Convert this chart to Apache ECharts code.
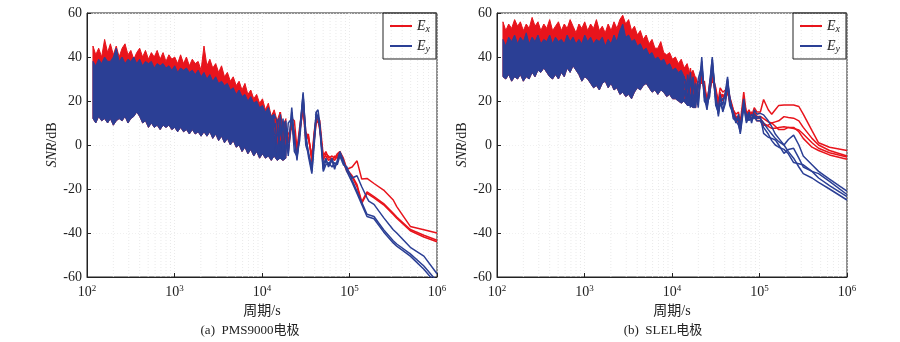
<!DOCTYPE html>
<html><head><meta charset="utf-8">
<script src="https://cdn.jsdelivr.net/npm/echarts@6/dist/echarts.min.js"></script>
<style>html,body{margin:0;padding:0;background:#fff}#c{width:900px;height:342px}</style>
</head><body><div id="c"></div>
<script>
// ---------- data ----------
// dense band part: periods (s)
const bandPeriods = [117,126,136,147,159,172,185,200,216,233,252,272,294,317,343,370,400,432,466,504,544,587,634,685,740,799,863,932,1006,1087,1174,1268,1369,1479,1597,1725,1863,2012,2173,2347,2535,2737,2957,3193,3449,3725,4023,4345,4692,5068,5473,5911,6384,6895,7446,8042,8685,9380,10130,10940,11820,12760,13780,14890,16080,17370,18760];
// (a) PMS9000
const redTopA = [45,41,44,40,48,42,46,41,45,40, 44,46,41,43,39,42,44,40,43,39, 42,40,43,39,42,38,41,39,40,37, 41,37,40,36,39,37,38,34,45,36, 39,35,37,33,36,31,33,29,31,27, 29,25,28,23,25,21,23,19,21,16, 19,13,16,11,15,9,12];
const blueTopA = [38,36,39,37,40,38,38,40,44,38, 40,37,39,38,40,37,39,36,38,37, 38,35,37,36,37,35,36,34,36,33, 35,34,35,33,34,32,34,31,33,30, 32,29,31,28,29,27,28,25,26,23, 25,22,23,20,22,19,20,17,18,15, 17,13,14,11,13,9,11];
const blueBotA = [12,10,13,11,12,10,12,9,11,12, 11,13,10,12,13,15,13,10,11,8, 10,8,9,7,9,8,9,7,8,6, 8,6,7,5,7,5,6,4,6,4, 6,3,5,2,4,1,3,0,2,-1, 0,-3,-1,-4,-2,-5,-3,-6,-4,-6, -5,-7,-5,-7,-6,-7,-6];
// (b) SLEL
const redTopB = [56,52,55,53,57,54,56,52,55,53, 58,54,56,52,55,53,57,52,54,56, 52,55,53,57,54,51,55,53,56,52, 55,53,57,52,54,51,55,52,56,53, 57,59,55,57,52,54,50,52,48,50, 46,48,44,44,47,42,41,42,39,40, 37,39,35,37,32,34,30];
const blueTopB = [48,45,49,47,50,46,49,47,51,46, 49,47,50,46,48,47,50,46,49,47, 48,46,50,47,49,46,48,46,50,47, 49,46,48,47,49,45,48,46,50,47, 52,55,49,50,47,48,45,46,43,44, 41,42,39,40,38,39,36,37,34,35, 33,34,31,32,29,30,28];
const blueBotB = [31,30,32,29,31,30,32,29,31,30, 33,31,34,33,35,33,31,30,32,30, 33,31,35,33,36,34,32,29,31,30, 28,26,27,25,28,29,26,28,25,26, 23,24,22,23,21,24,26,25,27,28, 26,24,25,23,25,24,22,23,21,21, 20,19,20,18,18,17,17];

// separated curves, periods (s)
const linePeriodsA = [14130,15140,16220,17380,18620,19950,21880,23440,25120,26920,29510,31620,33880,37150,39810,41690,43650,45710,50120,53700,57540,63100,67610,72440,77620,85110,93330,107200,121900,138000,158500,166000,190500,245500,316200,346700,495500,707900,1000000];
const exA1 = [12,0,15,-2,10,1,12,11,-2,8,20,6,3,-5,7,12,13,11,-5,-3,-6,-5,-6,-4,-3,-6,-11, -10,-7.2,-15.5,-15.2,-15,-17.5,-20.5,-25,-28,-37,-38.5,-40];
const exA2 = [8,-4,11,3,6,-3,10,6,-4,5,18,4,5,-8,6,11,12,9,-7,-4,-5,-7,-5,-6,-4,-7,-11, -14,-18,-25.8,-21.3,-22,-23.5,-26.6,-31,-32.7,-38.4,-41,-43.3];
const exA3 = [4,7,2,10,0,5,8,3,-3,6,16,2,4,-6,3,10,11,7,-6,-5,-7,-6,-7,-5,-3,-8,-12, -14.5,-19,-26.5,-22,-22.5,-24,-27.2,-31.6,-33.3,-39,-41.8,-44];
const eyA1 = [10,-5,14,-6,8,-4,17,2,-6,5,24,3,-3,-12,5,15,16,10,-11,-7,-9,-6,-10,-8,-4,-8,-11, -15,-14,-19,-24,-25.5,-27,-33,-38.5,-40,-46.5,-50.5,-58.5];
const eyA2 = [-3,8,-6,12,-5,10,12,-3,-5,2,22,6,-5,-13,2,14,13,8,-12,-9,-8,-10,-8,-9,-5,-9,-10, -16,-21,-26,-31.5,-31,-32.5,-38.5,-43.5,-45,-49.5,-55,-62];
const eyA3 = [5,-6,9,-3,11,-5,15,4,-7,6,23,0,-4,-10,4,15,15,9,-9,-6,-10,-7,-11,-7,-3,-7,-12, -17,-22,-27,-32.5,-32,-33.5,-39.5,-44.5,-46,-50.5,-56.5,-63.5];

const linePeriodsB = [14130,15140,16220,17380,18620,19950,21880,23440,25120,26920,28840,31620,33880,35480,38020,40740,43150,45710,50120,53700,57540,60260,66070,70790,75860,81280,87100,93330,102300,111400,125900,138000,151400,166000,190500,213800,245500,281800,316200,398100,473200,631000,1000000];
const exB1 = [33,24,35,22,31,26,30,27,18,28,34,24,20,26,24,25,27,22,16,14,15,10,24,14,16,13,17,15, 15,20.7,16,14,16,18,18.2,18.2,18.2,17.5,14,6.5,1,-1,-2.5];
const exB2 = [25,34,21,32,24,29,28,29,19,25,31,26,19,23,22,23,25,19,15,13,11,8,21,12,15,14,15,13, 13,12,10.5,10,10.5,11,12.9,12.5,12.2,11,8,3,0,-2.5,-5];
const exB3 = [29,22,31,25,28,22,32,23,20,27,33,22,17,24,20,24,26,21,16,12,13,7,20,15,13,15,14,12, 12,10,8.5,7.6,7.6,8,8.3,8,7.5,6.8,5,1,-1.5,-3.5,-5.5];
const exB4 = [21,30,24,33,20,27,29,26,21,24,30,25,18,22,23,21,24,20,14,13,10,9,19,13,14,12,13,11, 11,9,9,10,8.5,7,7,8,8,6,3,-1,-2.5,-4.5,-6.5];
const eyB1 = [30,20,33,18,28,19,40,22,16,26,40,20,14,22,18,24,31,20,15,10,14,8,21,12,15,10,16,14, 14.4,13.7,11,8.3,5,3,0,2.5,4.5,0,-5,-9,-12,-15.5,-21];
const eyB2 = [22,32,17,29,21,30,36,25,17,24,37,23,13,19,16,20,29,22,12,11,9,6,18,10,13,12,14,12, 13,5.3,3.5,3,2.3,0,-3.8,-2,-1.5,-6,-10,-12,-13,-16.5,-22.5];
const eyB3 = [27,18,30,21,25,17,38,20,18,28,39,18,15,20,21,22,30,18,14,12,11,5,17,14,11,14,12,13, 12,10,7,5,3,1.5,0,-3,-6,-10,-13,-15,-17,-20,-25];
const eyB4 = [19,28,20,31,18,26,34,24,19,22,35,21,16,23,15,19,27,21,13,11,12,7,19,11,14,11,13,11, 11,8,5,2,0,-1,-2,-4,-8,-8.5,-9,-12,-15,-18.5,-23.5];

const minorGrid = [200,300,400,500,600,700,800,900,2000,3000,4000,5000,6000,7000,8000,9000,20000,30000,40000,50000,60000,70000,80000,90000,200000,300000,400000,500000,600000,700000,800000,900000];
const yTicks = {min:-60, max:60, step:20};
const captions = ['(a)  PMS9000电极', '(b)  SLEL电极'];

// ---------- chart ----------
const RED = '#e8141c', BLUE = '#2b3f95';
const FONT = "'Liberation Serif', 'Noto Sans CJK SC', serif";
const pts = (xs, ys) => xs.map((x, i) => [x, ys[i]]);

function bandSeries(idx, name, color, top, bot) {
  return {
    type: 'custom', name, xAxisIndex: idx, yAxisIndex: idx, silent: true,
    itemStyle: {color},
    data: [[bandPeriods[0], top[0]]],
    encode: {x: 0, y: 1},
    renderItem: (params, api) => {
      const up = bandPeriods.map((x, i) => api.coord([x, top[i]]));
      const dn = bandPeriods.map((x, i) => api.coord([x, bot[i]])).reverse();
      return {type: 'polygon', shape: {points: up.concat(dn)},
              style: {fill: color, stroke: color, lineWidth: 1}};
    }
  };
}
function gridSeries(idx) {
  return {
    type: 'custom', xAxisIndex: idx, yAxisIndex: idx, silent: true, z: 0,
    data: minorGrid.map(v => [v, 0]), encode: {x: 0, y: 1},
    renderItem: (params, api) => {
      const a = api.coord([api.value(0), yTicks.min]);
      const b = api.coord([api.value(0), yTicks.max]);
      return {type: 'line', shape: {x1: a[0], y1: a[1], x2: b[0], y2: b[1]},
              style: {stroke: '#e4e4e4', lineWidth: 0.8, lineDash: [1, 2]}};
    }
  };
}
function lineSeries(idx, name, color, xs, ys) {
  return {type: 'line', name, xAxisIndex: idx, yAxisIndex: idx, data: pts(xs, ys),
          symbol: 'none', silent: true, lineStyle: {color, width: 1.5}, itemStyle: {color}};
}

const grids = [
  {left: 87, top: 13, width: 350, height: 264},
  {left: 497, top: 13, width: 350, height: 264}
].map(g => Object.assign(g, {show: true, borderColor: '#222', borderWidth: 1, backgroundColor: 'transparent'}));

const xAxes = [0, 1].map(i => ({
  type: 'log', gridIndex: i, min: 100, max: 1000000, logBase: 10, splitNumber: 4,
  name: '周期/s', nameLocation: 'middle', nameGap: 26,
  nameTextStyle: {fontFamily: FONT, fontSize: 14, color: '#222'},
  axisLine: {onZero: false, lineStyle: {color: '#222'}},
  axisTick: {inside: true, length: 4, lineStyle: {color: '#222'}},
  splitLine: {show: true, lineStyle: {color: '#e4e4e4', type: [1, 2], width: 0.8}},
  axisLabel: {
    margin: 7, color: '#222', fontFamily: FONT, fontSize: 14,
    formatter: v => '10{s|' + Math.round(Math.log10(v)) + '}',
    rich: {s: {fontSize: 9, fontFamily: FONT, color: '#222', verticalAlign: 'top', padding: [0, 0, 8, 0]}}
  }
}));
const yAxes = [0, 1].map(i => ({
  type: 'value', gridIndex: i, min: yTicks.min, max: yTicks.max, interval: yTicks.step,
  name: '{i|SNR}/dB', nameLocation: 'middle', nameGap: 27, nameRotate: 90,
  nameTextStyle: {fontFamily: FONT, fontSize: 14, color: '#222',
    rich: {i: {fontStyle: 'italic', fontFamily: FONT, fontSize: 14, color: '#222'}}},
  axisLine: {show: true, onZero: false, lineStyle: {color: '#222'}},
  axisTick: {show: true, inside: true, length: 4, lineStyle: {color: '#222'}},
  splitLine: {show: true, lineStyle: {color: '#ececec', type: [1, 2], width: 0.8}},
  axisLabel: {margin: 5, color: '#222', fontFamily: FONT, fontSize: 14}
}));

const legendFmt = n => '{i|E}{s|' + (n === 'Ex' ? 'x' : 'y') + '}';
const legends = [383, 793].map(l => ({
  left: l, top: 13, orient: 'vertical', selectedMode: false,
  borderColor: '#222', borderWidth: 1, padding: [6, 6, 5, 7], itemGap: 5,
  itemWidth: 22, itemHeight: 2, icon: 'rect',
  data: [{name: 'Ex', itemStyle: {color: RED}}, {name: 'Ey', itemStyle: {color: BLUE}}],
  formatter: legendFmt,
  textStyle: {padding: [0, 0, 0, 0], rich: {
    i: {fontStyle: 'italic', fontFamily: FONT, fontSize: 14, color: '#222'},
    s: {fontStyle: 'italic', fontFamily: FONT, fontSize: 10, color: '#222', verticalAlign: 'bottom', padding: [6, 0, 0, 0]}
  }}
}));

const series = [
  gridSeries(0), gridSeries(1),
  bandSeries(0, 'Ex', RED, redTopA, blueBotA),
  bandSeries(0, 'Ey', BLUE, blueTopA, blueBotA),
  bandSeries(1, 'Ex', RED, redTopB, blueBotB),
  bandSeries(1, 'Ey', BLUE, blueTopB, blueBotB),
  lineSeries(0, 'Ex', RED, linePeriodsA, exA1),
  lineSeries(0, 'Ex', RED, linePeriodsA, exA2),
  lineSeries(0, 'Ex', RED, linePeriodsA, exA3),
  lineSeries(0, 'Ey', BLUE, linePeriodsA, eyA1),
  lineSeries(0, 'Ey', BLUE, linePeriodsA, eyA2),
  lineSeries(0, 'Ey', BLUE, linePeriodsA, eyA3),
  lineSeries(1, 'Ex', RED, linePeriodsB, exB1),
  lineSeries(1, 'Ex', RED, linePeriodsB, exB2),
  lineSeries(1, 'Ex', RED, linePeriodsB, exB3),
  lineSeries(1, 'Ex', RED, linePeriodsB, exB4),
  lineSeries(1, 'Ey', BLUE, linePeriodsB, eyB1),
  lineSeries(1, 'Ey', BLUE, linePeriodsB, eyB2),
  lineSeries(1, 'Ey', BLUE, linePeriodsB, eyB3),
  lineSeries(1, 'Ey', BLUE, linePeriodsB, eyB4)
];

const chart = echarts.init(document.getElementById('c'), null, {renderer: 'canvas'});
chart.setOption({
  animation: false, backgroundColor: '#fff',
  grid: grids, xAxis: xAxes, yAxis: yAxes, legend: legends, series,
  graphic: [
    {type: 'text', x: 250, y: 331, style: {text: captions[0], align: 'center', verticalAlign: 'middle', font: '13px ' + FONT, fill: '#222'}},
    {type: 'text', x: 663, y: 331, style: {text: captions[1], align: 'center', verticalAlign: 'middle', font: '13px ' + FONT, fill: '#222'}}
  ]
});
</script></body></html>
